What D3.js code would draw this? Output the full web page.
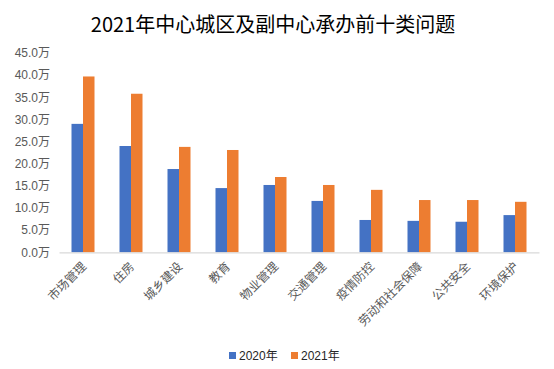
<!DOCTYPE html>
<html><head><meta charset="utf-8">
<script src="https://cdn.jsdelivr.net/npm/d3@7"></script>
<style>
html,body{margin:0;padding:0;background:#fff;}
svg{display:block;font-family:"Liberation Sans","Noto Sans CJK SC",sans-serif;}
</style></head>
<body>
<svg id="chart" width="554" height="369"></svg>
<script>
const categories = ["市场管理","住房","城乡建设","教育","物业管理","交通管理","疫情防控","劳动和社会保障","公共安全","环境保护"];
const values2020 = [29.0,24.0,18.8,14.5,15.2,11.6,7.3,7.1,6.9,8.4];
const values2021 = [39.7,35.8,23.8,23.1,17.0,15.2,14.1,11.8,11.8,11.4];
const seriesNames = ["2020年","2021年"];
const yTicks = [0,5,10,15,20,25,30,35,40,45];
const title = "2021年中心城区及副中心承办前十类问题";

const colors = ["#4472C4","#ED7D31"];
const svg = d3.select("#chart");
const x0 = 59, x1 = 539, yTop = 53, yBase = 252.3;

const x = d3.scaleBand().domain(categories).range([x0,x1]).paddingInner(0).paddingOuter(0);
const y = d3.scaleLinear().domain([0,45]).range([yBase,yTop]);
const barW = 11.5;
const xs = d3.scaleBand().domain([0,1]).range([0,barW*2]);

svg.append("text").attr("x",273).attr("y",32).attr("text-anchor","middle")
  .attr("font-size",20).attr("fill","#000").attr("font-family","'Noto Sans CJK SC','Liberation Sans',sans-serif")
  .text(title);

// y axis labels
const yAxis = d3.axisLeft(y).tickValues(yTicks).tickSize(0).tickPadding(0)
  .tickFormat(d => d3.format(".1f")(d) + "万");
const gy = svg.append("g").attr("transform",`translate(50,0)`).call(yAxis);
gy.select(".domain").remove();
gy.selectAll("text").attr("font-size",12).attr("fill","#595959")
  .attr("font-family","'Liberation Sans','Noto Sans CJK SC',sans-serif");

// bars
const data = categories.map((c,i)=>({c, v:[values2020[i], values2021[i]]}));
const g = svg.append("g");
data.forEach(d=>{
  d.v.forEach((v,k)=>{
    g.append("rect")
      .attr("x", x(d.c) + x.bandwidth()/2 - barW + xs(k))
      .attr("y", y(v))
      .attr("width", barW)
      .attr("height", yBase - y(v))
      .attr("fill", colors[k]);
  });
});

// x axis
const xAxis = d3.axisBottom(x).tickSize(0).tickPadding(0);
const gx = svg.append("g").attr("transform",`translate(0,${yBase})`).call(xAxis);
gx.select(".domain").attr("stroke","#D9D9D9").attr("stroke-width",1.2);
gx.selectAll("text")
  .attr("font-size",12).attr("fill","#595959")
  .attr("font-family","'Noto Sans CJK SC',sans-serif")
  .attr("text-anchor","end")
  .attr("dy",0).attr("y",0)
  .attr("transform","translate(4,15) rotate(-45)");

// legend
const legend = svg.append("g");
const lx = [229, 291];
seriesNames.forEach((n,k)=>{
  legend.append("rect").attr("x",lx[k]).attr("y",352).attr("width",7).attr("height",7).attr("fill",colors[k]);
  legend.append("text").attr("x",lx[k]+10).attr("y",360).attr("font-size",12).attr("fill","#262626")
    .attr("font-family","'Liberation Sans','Noto Sans CJK SC',sans-serif").text(n);
});
</script>
</body></html>
